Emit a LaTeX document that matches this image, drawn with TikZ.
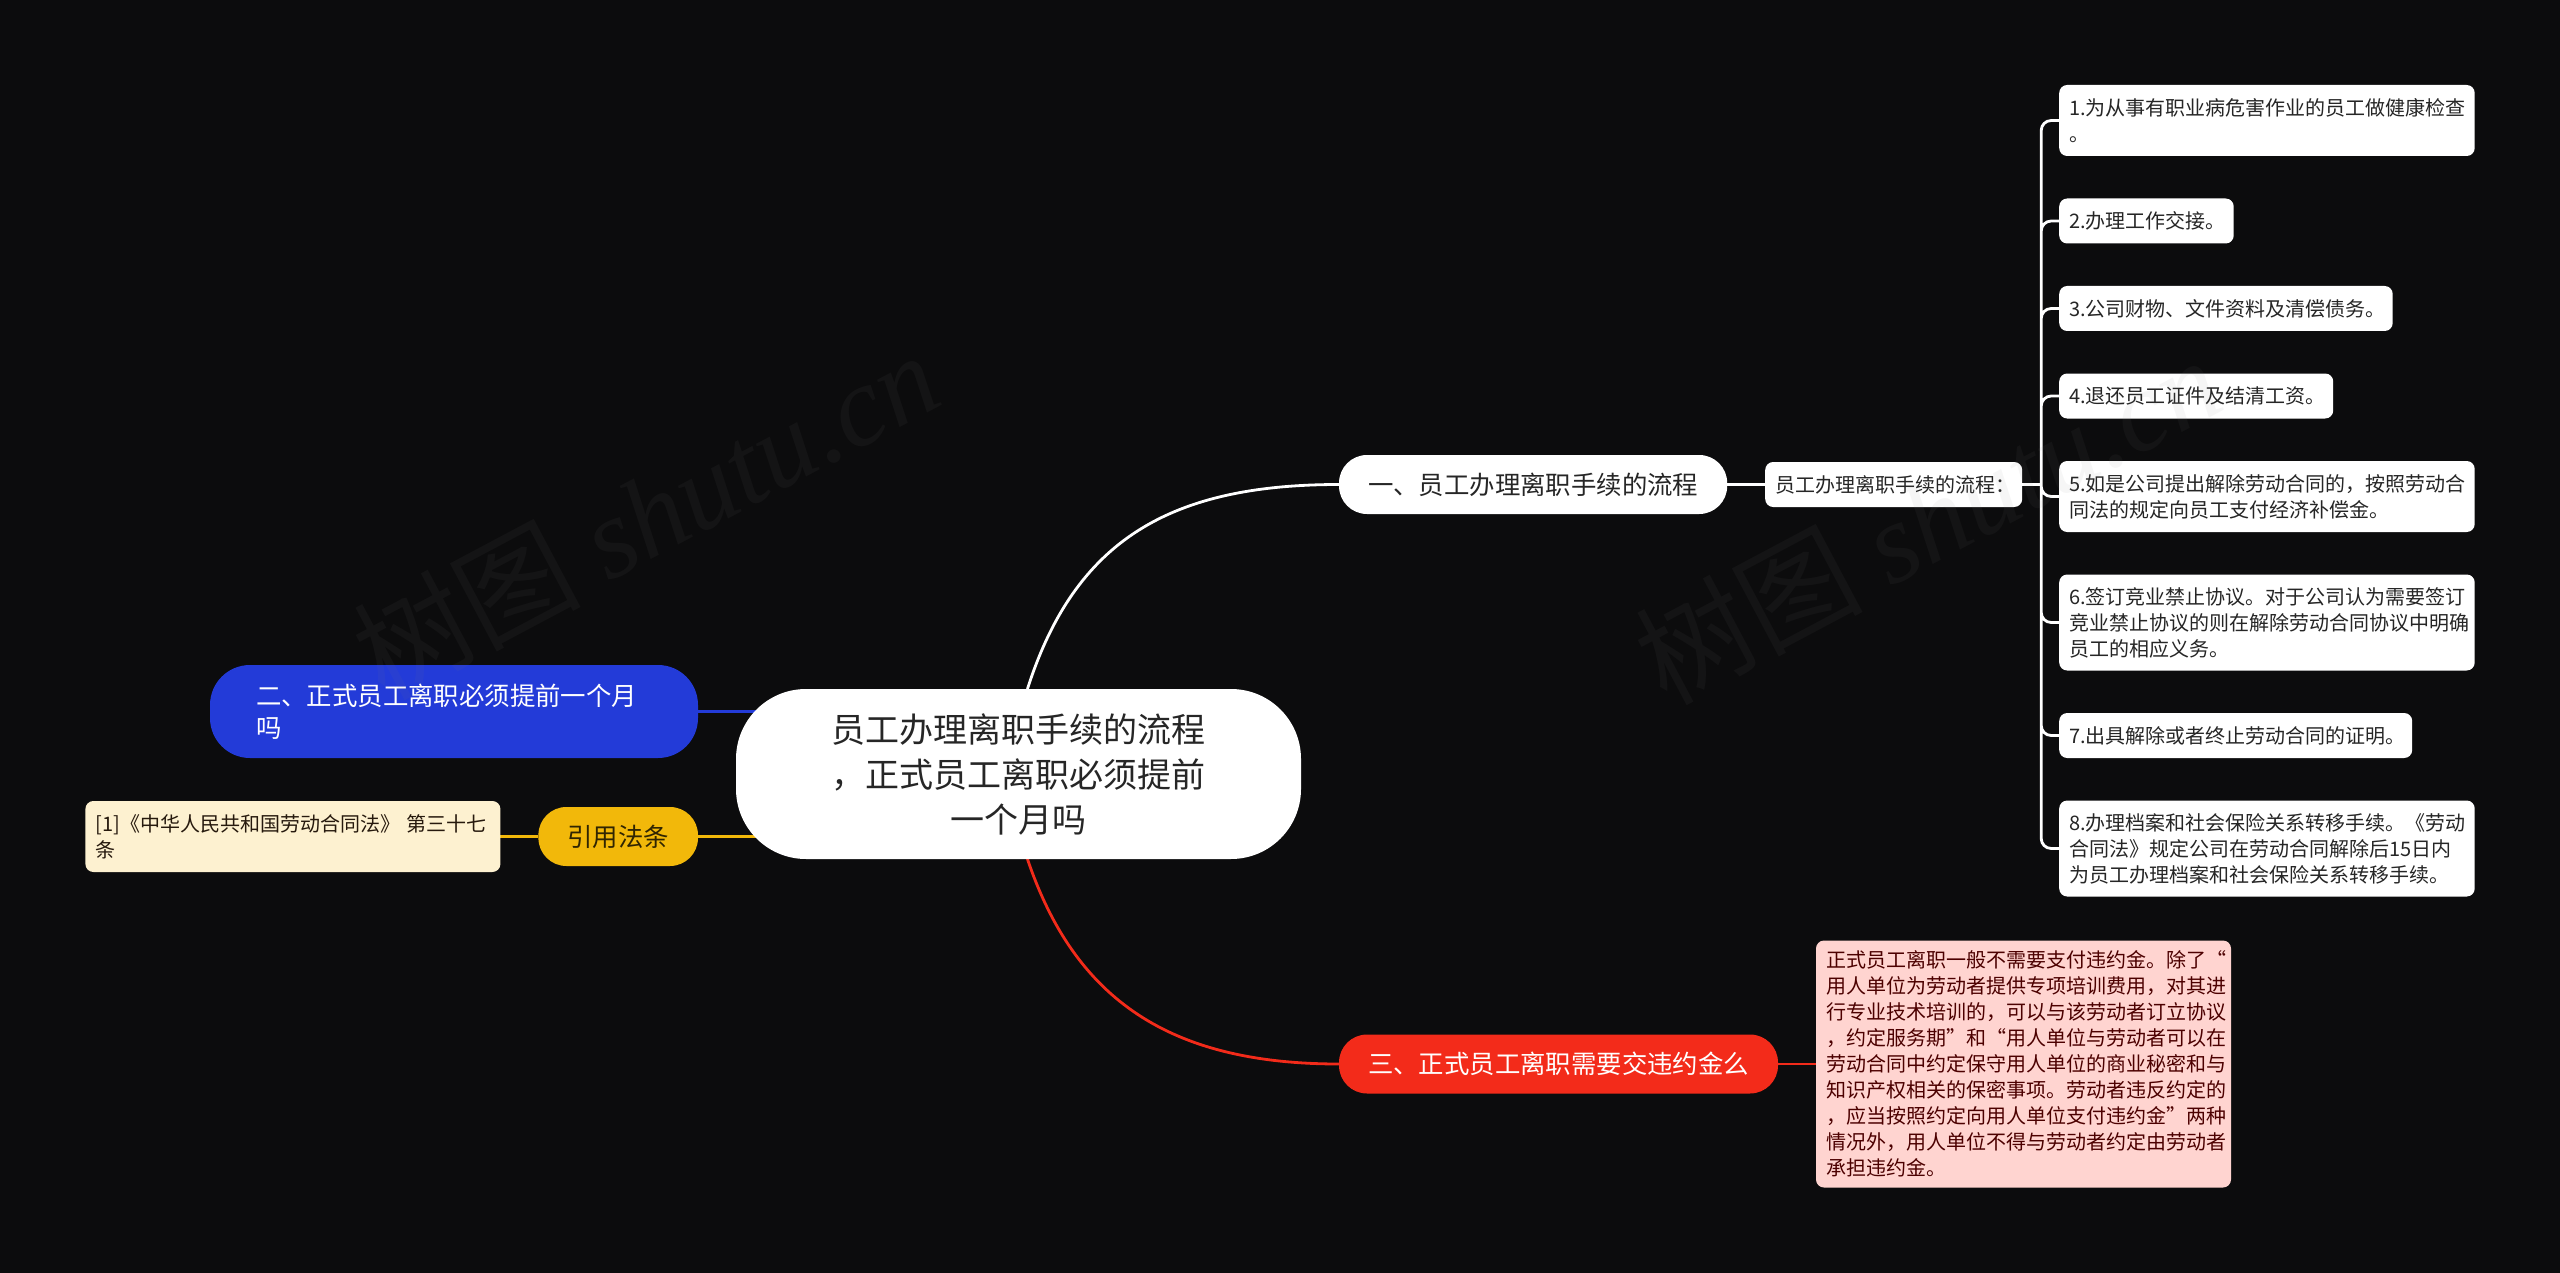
\documentclass[tikz,border=0pt]{standalone}
\usepackage{fontspec}
\setmainfont{Noto Sans CJK SC}
\newfontfamily\markfont{Liberation Serif}
\usetikzlibrary{positioning,backgrounds}
\definecolor{bgdark}{HTML}{0C0C0D}
\definecolor{blueb}{HTML}{233BD8}
\definecolor{redb}{HTML}{F32B1A}
\definecolor{yellowb}{HTML}{F2B80A}
\definecolor{pinkd}{HTML}{FFD4D0}
\definecolor{creamd}{HTML}{FDF1D0}
\begin{document}
\begin{tikzpicture}[x=1pt,y=-1pt]
\tikzstyle{main}=[rectangle, rounded corners=70pt, fill=white, text=black!85, outer sep=0pt, minimum width=565pt, minimum height=170pt, align=center, font=\fontsize{34}{45}\selectfont]
\tikzstyle{branch}=[rectangle, rounded corners=28pt, outer sep=0pt, minimum height=59pt, inner xsep=29pt, font=\fontsize{25.4}{32}\selectfont]
\tikzstyle{leaf}=[rectangle, rounded corners=8pt, fill=white, text=black!85, outer sep=0pt, inner xsep=10pt, inner ysep=0pt, align=left, font=\fontsize{20}{26}\selectfont]
\tikzstyle{connect}=[line width=2.8pt]
\tikzstyle{wmark}=[text=gray, text opacity=.07, rotate=28, font=\fontsize{114}{114}\selectfont]
\useasboundingbox (0,0) rectangle (2560,1273);
  \node[main] (title) at (1018.5,774) {员工办理离职手续的流程\\，正式员工离职必须提前\\一个月吗};
  \node[branch, fill=white, text=black!85] (b1) [right=38pt of title, yshift=289.5pt] {一、员工办理离职手续的流程};
  \node[branch, fill=redb, text=white] (b3) [right=38pt of title, yshift=-290pt] {三、正式员工离职需要交违约金么};
  \node[branch, fill=blueb, text=white, rounded corners=40pt, minimum height=93pt, inner xsep=46pt, text width=396pt, align=left] (b2) [left=38pt of title, yshift=62.5pt] {二、正式员工离职必须提前一个月\\吗};
  \node[branch, fill=yellowb, text=black!80!yellowb] (cite) [left=38pt of title, yshift=-62.5pt] {引用法条};
\node[leaf, text width=395pt, minimum height=71pt, fill=creamd, text=black!80!brown] (law) [left=38pt of cite] {[1]《中华人民共和国劳动合同法》 第三十七\\条};
\node[leaf, text width=395pt, minimum height=247pt, fill=pinkd, text=black!70!red] (note) [right=38pt of b3] {正式员工离职一般不需要支付违约金。除了“\\用人单位为劳动者提供专项培训费用，对其进\\行专业技术培训的，可以与该劳动者订立协议\\，约定服务期”和“用人单位与劳动者可以在\\劳动合同中约定保守用人单位的商业秘密和与\\知识产权相关的保密事项。劳动者违反约定的\\，应当按照约定向用人单位支付违约金”两种\\情况外，用人单位不得与劳动者约定由劳动者\\承担违约金。};
\node[leaf, text width=237pt, minimum height=45pt] (steps) [right=38pt of b1] {员工办理离职手续的流程：};
\coordinate[right=19pt of steps] (brk);
  \node[leaf, text width=395.5pt, minimum height=71pt] (l1) [right=37pt of steps.east, anchor=north west, yshift=399.5pt] {1.为从事有职业病危害作业的员工做健康检查\\。};
  \node[leaf, text width=154.5pt, minimum height=45pt] (l2) [below=42.5pt of l1.south west, anchor=north west] {2.办理工作交接。};
  \node[leaf, text width=313.5pt, minimum height=45pt] (l3) [below=42.5pt of l2.south west, anchor=north west] {3.公司财物、文件资料及清偿债务。};
  \node[leaf, text width=254pt, minimum height=45pt] (l4) [below=42.5pt of l3.south west, anchor=north west] {4.退还员工证件及结清工资。};
  \node[leaf, text width=395.5pt, minimum height=71pt] (l5) [below=42.5pt of l4.south west, anchor=north west] {5.如是公司提出解除劳动合同的，按照劳动合\\同法的规定向员工支付经济补偿金。};
  \node[leaf, text width=395.5pt, minimum height=96pt] (l6) [below=42.5pt of l5.south west, anchor=north west] {6.签订竞业禁止协议。对于公司认为需要签订\\竞业禁止协议的则在解除劳动合同协议中明确\\员工的相应义务。};
  \node[leaf, text width=333pt, minimum height=45pt] (l7) [below=42.5pt of l6.south west, anchor=north west] {7.出具解除或者终止劳动合同的证明。};
  \node[leaf, text width=395.5pt, minimum height=96pt] (l8) [below=42.5pt of l7.south west, anchor=north west] {8.办理档案和社会保险关系转移手续。《劳动\\合同法》规定公司在劳动合同解除后15日内\\为员工办理档案和社会保险关系转移手续。};
\begin{scope}[on background layer]
\fill[bgdark] (0,0) rectangle (2560,1273);
\draw[connect, white] (title.84) .. controls (1075,540) and (1170,484.5) .. (b1.west);
\draw[connect, redb] (title.-84) .. controls (1075,1000) and (1170,1064) .. (b3.west);
\draw[connect, blueb] (b2.east) -- (b2.east -| title);
\draw[connect, yellowb] (cite.east) -- (cite.east -| title);
\draw[connect, yellowb] (law) -- (cite);
\draw[connect, redb] (b3) -- (note);
\draw[connect, white] (b1) -- (steps);
\draw[connect, white] (steps) -- (brk);
\draw[connect, white, rounded corners=10pt] (brk) |- (l1.west) (brk) |- (l2.west) (brk) |- (l3.west) (brk) |- (l4.west) (brk) |- (l5.west) (brk) |- (l6.west) (brk) |- (l7.west) (brk) |- (l8.west);
\end{scope}
\node[wmark] (wm1) at (645,514) {树图 {\markfont\itshape shutu.cn}};
\node[wmark] (wm2) at (1927,519) {树图 {\markfont\itshape shutu.cn}};
\end{tikzpicture}
\end{document}
